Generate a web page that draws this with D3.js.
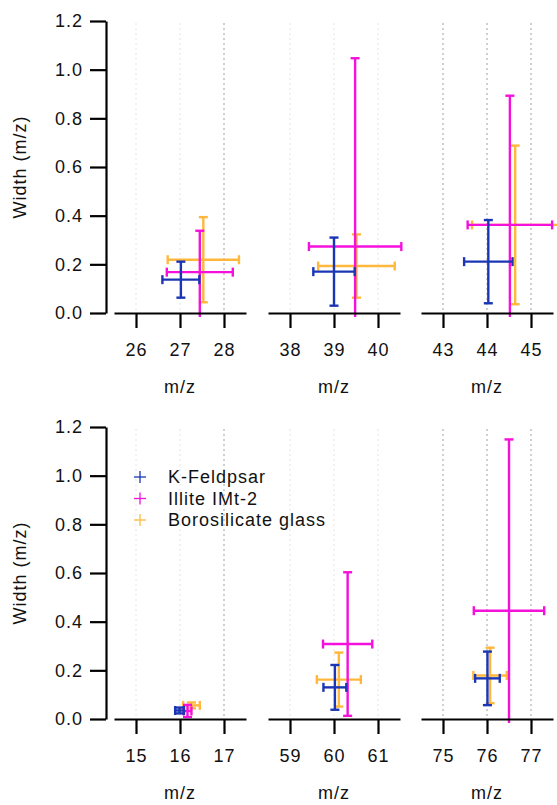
<!DOCTYPE html>
<html>
<head>
<meta charset="utf-8">
<script src="https://cdn.jsdelivr.net/npm/d3@7"></script>
<style>
  body { margin: 0; background: #fff; }
  svg text { font-family: "Liberation Sans", Arial, sans-serif; font-size: 18px; letter-spacing: 1px; fill: #111; }
</style>
</head>
<body>
<svg id="chart" width="557" height="805"></svg>
<script>
// series names (legend order)
const seriesNames = ['K-Feldpsar', 'Illite IMt-2', 'Borosilicate glass'];

// panel centres (m/z) and their tick values, top row then bottom row
const panelCenters = [27, 39, 44, 16, 60, 76];
const panelTicks = [[26, 27, 28], [38, 39, 40], [43, 44, 45], [15, 16, 17], [59, 60, 61], [75, 76, 77]];
const yTicks = [0, 0.2, 0.4, 0.6, 0.8, 1.0, 1.2];

// K-Feldpsar: peak position, position error, width, width error (one per panel)
const kfMz = [27.02, 39.00, 44.03, 15.99, 60.02, 76.01];
const kfMzErr = [0.42, 0.47, 0.55, 0.10, 0.26, 0.28];
const kfW = [0.137, 0.170, 0.211, 0.035, 0.130, 0.167];
const kfWErr = [0.074, 0.140, 0.171, 0.012, 0.092, 0.110];

// Illite IMt-2
const ilMz = [27.45, 39.48, 44.52, 16.17, 60.31, 76.50];
const ilMzErr = [0.75, 1.05, 0.96, 0.09, 0.56, 0.80];
const ilW = [0.168, 0.273, 0.362, 0.033, 0.308, 0.445];
const ilWErr = [0.170, 0.774, 0.531, 0.025, 0.295, 0.704];

// Borosilicate glass
const bgMz = [27.53, 39.51, 44.64, 16.26, 60.11, 76.07];
const bgMzErr = [0.81, 0.87, 0.98, 0.19, 0.50, 0.38];
const bgW = [0.219, 0.193, 0.362, 0.056, 0.162, 0.179];
const bgWErr = [0.175, 0.130, 0.326, 0.012, 0.111, 0.114];

const colors = ['#1a36b4', '#f510dc', '#ffb83c'];

// which gridlines are drawn darker, per column
const gridDark = [[false, false, true], [false, false, false], [true, true, true]];

const seriesData = [
  { mz: kfMz, mzErr: kfMzErr, w: kfW, wErr: kfWErr },
  { mz: ilMz, mzErr: ilMzErr, w: ilW, wErr: ilWErr },
  { mz: bgMz, mzErr: bgMzErr, w: bgW, wErr: bgWErr }
];

// layout
const colX = [114, 268, 421];
const panelW = 132;
const rowTop = [21, 427];
const panelH = 292;
const yAxisX = 106;
const cap = 4.5;

const svg = d3.select('#chart');

rowTop.forEach((top, row) => {
  const y = d3.scaleLinear().domain([0, 1.2]).range([top + panelH, top]);

  // y axis
  const ya = svg.append('g')
    .attr('transform', `translate(${yAxisX},0)`)
    .call(d3.axisLeft(y).tickValues(yTicks).tickFormat(d3.format('.1f'))
      .tickSize(16).tickSizeOuter(0).tickPadding(7));
  ya.selectAll('path, line').attr('stroke', '#000').attr('stroke-width', 2.2);
  ya.selectAll('text').attr('font-size', null).attr('font-family', null);

  svg.append('text')
    .attr('transform', `translate(26,${top + panelH / 2}) rotate(-90)`)
    .attr('text-anchor', 'middle')
    .text('Width (m/z)');

  colX.forEach((x0, col) => {
    const p = row * 3 + col;
    const c = panelCenters[p];
    const x = d3.scaleLinear().domain([c - 1.5, c + 1.5]).range([x0, x0 + panelW]);

    // dotted gridlines
    svg.append('g').selectAll('line')
      .data(panelTicks[p])
      .join('line')
      .attr('x1', d => x(d)).attr('x2', d => x(d))
      .attr('y1', y(1.2) + 2).attr('y2', y(0) - 2)
      .attr('stroke', (d, i) => gridDark[col][i] ? '#a0a0a0' : '#e4e4e4')
      .attr('stroke-width', 1)
      .attr('stroke-dasharray', '2,3');

    // error bar crosses, borosilicate first so blue ends on top
    [2, 1, 0].forEach(s => {
      const d = seriesData[s];
      const g = svg.append('g').attr('stroke', colors[s]).attr('stroke-width', 2.4);
      const cx = x(d.mz[p]), cy = y(d.w[p]);
      const xl = x(d.mz[p] - d.mzErr[p]), xr = x(d.mz[p] + d.mzErr[p]);
      const wLo = d.w[p] - d.wErr[p];
      const yt = y(d.w[p] + d.wErr[p]), yb = y(Math.max(wLo, 0));

      g.append('line').attr('x1', xl).attr('x2', xr).attr('y1', cy).attr('y2', cy);
      g.append('line').attr('x1', xl).attr('x2', xl).attr('y1', cy - cap).attr('y2', cy + cap);
      g.append('line').attr('x1', xr).attr('x2', xr).attr('y1', cy - cap).attr('y2', cy + cap);
      g.append('line').attr('x1', cx).attr('x2', cx).attr('y1', yt).attr('y2', wLo < 0 ? yb + 4 : yb);
      g.append('line').attr('x1', cx - cap).attr('x2', cx + cap).attr('y1', yt).attr('y2', yt);
      if (wLo >= 0) {
        g.append('line').attr('x1', cx - cap).attr('x2', cx + cap).attr('y1', yb).attr('y2', yb);
      }
    });

    // x axis
    const xa = svg.append('g')
      .attr('transform', `translate(0,${y(0)})`)
      .call(d3.axisBottom(x).tickValues(panelTicks[p]).tickFormat(d3.format('d'))
        .tickSize(15).tickSizeOuter(0).tickPadding(15));
    xa.selectAll('path, line').attr('stroke', '#000').attr('stroke-width', 2.2);
    xa.selectAll('text').attr('font-size', null).attr('font-family', null);

    svg.append('text')
      .attr('x', x(c))
      .attr('y', y(0) + 80)
      .attr('text-anchor', 'middle')
      .text('m/z');
  });
});

// legend in the lower left panel
const legend = svg.append('g').attr('transform', 'translate(140,477)');
seriesNames.forEach((name, i) => {
  const g = legend.append('g').attr('transform', `translate(0,${i * 21.5})`);
  g.append('line').attr('x1', -6).attr('x2', 6).attr('y1', 0).attr('y2', 0)
    .attr('stroke', colors[i]).attr('stroke-width', 1.3);
  g.append('line').attr('x1', 0).attr('x2', 0).attr('y1', -6).attr('y2', 6)
    .attr('stroke', colors[i]).attr('stroke-width', 1.3);
  g.append('text').attr('x', 28).attr('y', 6).text(name);
});
</script>
</body>
</html>
